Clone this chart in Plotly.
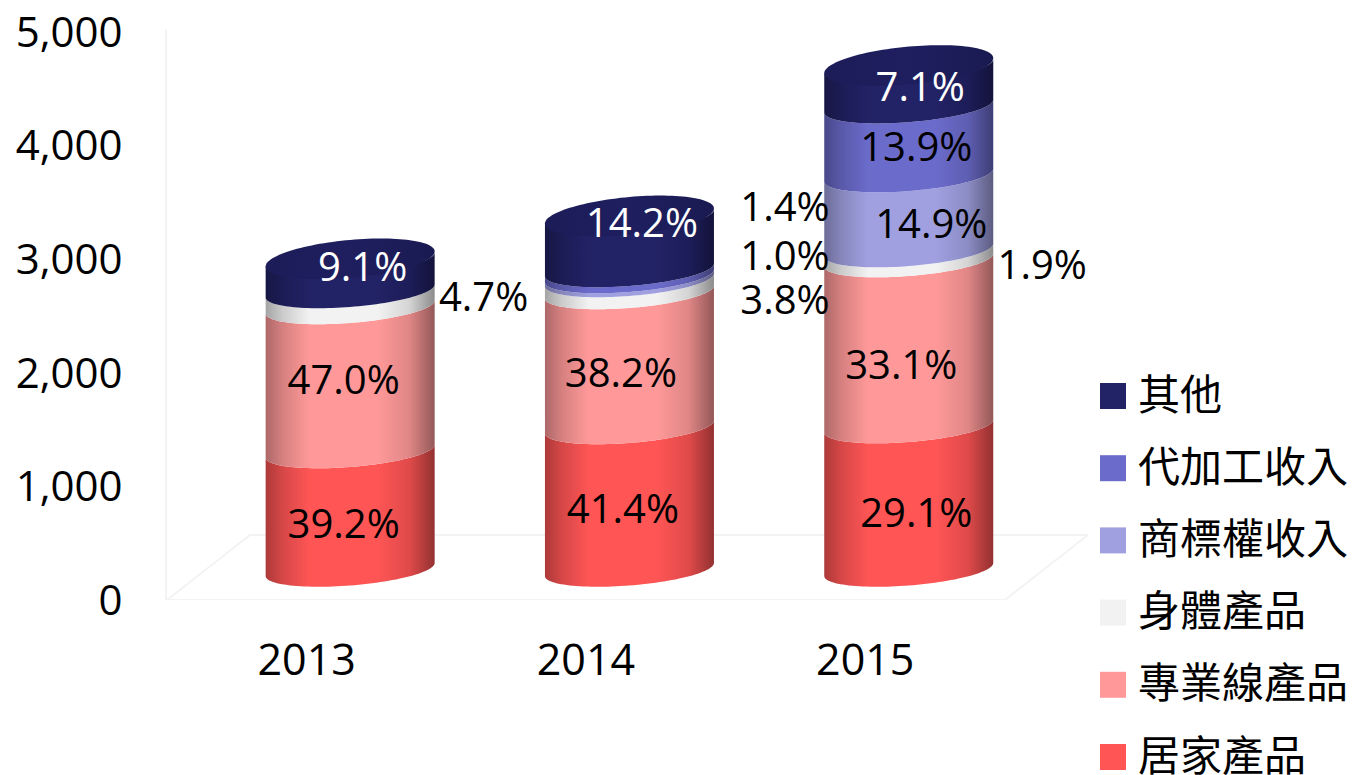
import math
import plotly.graph_objects as go

YEARS = ["2013", "2014", "2015"]
SERIES = ["居家產品", "專業線產品", "身體產品", "商標權收入", "代加工收入", "其他"]
COLORS = ["#FF5555", "#FF9999", "#F2F2F2", "#A0A0E0", "#6B6BCB", "#222266"]

home = [1043, 1255, 1263]
pro = [1268, 1188, 1461]
body = [141, 106, 88]
brand = [0, 35, 660]
oem = [0, 53, 607]
other = [282, 475, 357]
VALUES = [home, pro, body, brand, oem, other]

home_pct = ["39.2%", "41.4%", "29.1%"]
pro_pct = ["47.0%", "38.2%", "33.1%"]
body_pct = ["4.7%", "3.8%", "1.9%"]
brand_pct = ["", "1.0%", "14.9%"]
oem_pct = ["", "1.4%", "13.9%"]
other_pct = ["9.1%", "14.2%", "7.1%"]
PCT = [home_pct, pro_pct, body_pct, brand_pct, oem_pct, other_pct]

# label nudges from the middle of each segment, in pixels (right, down)
NUDGE = [
    [(-6.5, 18), (-6.5, 15), (7.5, 18.75)],
    [(-6.5, 5.5), (-8.5, 17.5), (-7.5, 25.5)],
    [(133.5, 2.5), (155.5, 18), (133.5, 13.5)],
    [(0, 0), (155.5, -17.5), (22.5, 15.5)],
    [(0, 0), (155.5, -61.5), (7.5, 10.25)],
    [(12.5, -3.5), (12.5, -16), (11.5, 4.75)],
]
LABEL_COLORS = ["black", "black", "black", "black", "black", "white"]

W, H = 1353, 775
X0, X1 = 167, 1088
Y0, Y1 = 600, 30
PX_CAT = 279.3
PX_VAL = 0.1136
DEPTH_X = 83 / PX_CAT
DEPTH_Y = 65 / PX_VAL
CYL_DX = 43.5 / PX_CAT
CYL_DY = 30.5 / PX_VAL
A, B, S = 84.5, 16.0, 6.5
A_TOP, B_TOP, S_TOP = 84.5, 19.0, 7.5
FONT_LAT = "'Open Sans', 'Noto Sans CJK TC', sans-serif"
FONT_CJK = "'Noto Sans CJK TC', 'Noto Sans', sans-serif"


def shade(color, k):
    r, g, b = int(color[1:3], 16), int(color[3:5], 16), int(color[5:7], 16)
    return f"rgb({int(r*k)},{int(g*k)},{int(b*k)})"


def cscale(color):
    return [[0, shade(color, .68)], [.1, shade(color, .84)], [.26, shade(color, 1)],
            [.66, shade(color, 1)], [.85, shade(color, .88)], [1, shade(color, .58)]]


def arc(cx, yv, t0, t1, b=B, s=S, n=60):
    xs, ys = [], []
    for i in range(n + 1):
        t = t0 + (t1 - t0) * i / n
        xs.append(cx + A / PX_CAT * math.cos(t))
        ys.append(yv - b / PX_VAL * math.sin(t) + s / PX_VAL * math.cos(t))
    return xs, ys


fig = go.Figure()

# floor of the 3D plot
floor_x = [0, 3, 3 + DEPTH_X, DEPTH_X, 0]
floor_y = [0, 0, DEPTH_Y, DEPTH_Y, 0]
fig.add_trace(go.Scatter(x=floor_x, y=floor_y, mode="lines", line=dict(color="#F3F3F3", width=2),
                         hoverinfo="skip", showlegend=False))

labels = []
for j, year in enumerate(YEARS):
    cx = j + 0.5 + CYL_DX
    level = CYL_DY
    for i, vals in enumerate(VALUES):
        v = vals[j]
        if v:
            xb, yb = arc(cx, level, math.pi, 0)
            xt, yt = arc(cx, level + v, 0, math.pi)
            fig.add_trace(go.Scatter(x=xb + xt, y=yb + yt, mode="none", fill="toself",
                                     fillgradient=dict(type="horizontal", colorscale=cscale(COLORS[i])),
                                     hoverinfo="skip", showlegend=False))
        if PCT[i][j]:
            dx, dy = NUDGE[i][j]
            labels.append((cx + dx / PX_CAT, level + v / 2 - dy / PX_VAL, PCT[i][j], LABEL_COLORS[i]))
        level += v
    xe, ye = arc(cx, level, 0, 2 * math.pi, b=B_TOP, s=S_TOP, n=120)
    fig.add_trace(go.Scatter(x=xe, y=ye, mode="none", fill="toself",
                             fillgradient=dict(type="horizontal",
                                               colorscale=[[0, "#1c1c58"], [.5, "#1f1f60"], [1, "#1a1a52"]]),
                             hoverinfo="skip", showlegend=False))

fig.add_trace(go.Scatter(x=[l[0] for l in labels], y=[l[1] for l in labels],
                         text=[l[2] for l in labels], mode="text", textposition="middle center",
                         textfont=dict(family=FONT_LAT, size=40, color=[l[3] for l in labels]),
                         hoverinfo="skip", showlegend=False, cliponaxis=False))

# legend (top to bottom, reversed series order)
LEG_Y = [396 + 72.2 * k for k in range(len(SERIES))]
fig.add_trace(go.Scatter(x=[1113] * 6, y=LEG_Y, xaxis="x2", yaxis="y2", mode="markers",
                         marker=dict(symbol="square", size=26, color=COLORS[::-1], line=dict(width=0)),
                         hoverinfo="skip", showlegend=False, cliponaxis=False))
fig.add_trace(go.Scatter(x=[1138] * 6, y=[v + 3 for v in LEG_Y], xaxis="x2", yaxis="y2", mode="text",
                         text=SERIES[::-1], textposition="middle right",
                         textfont=dict(family=FONT_CJK, size=42, color="black"),
                         hoverinfo="skip", showlegend=False, cliponaxis=False))

fig.update_layout(
    width=W, height=H, margin=dict(l=0, r=0, t=0, b=0, autoexpand=False), autosize=False,
    paper_bgcolor="white", plot_bgcolor="white", showlegend=False,
    xaxis=dict(domain=[X0 / W, X1 / W], range=[0, (X1 - X0) / PX_CAT],
               tickmode="array", tickvals=[0.5, 1.5, 2.5], ticktext=YEARS,
               showgrid=False, zeroline=False, showline=False, ticks="", automargin=False,
               ticklabelstandoff=31, tickfont=dict(family=FONT_LAT, size=43, color="black")),
    yaxis=dict(domain=[(H - Y0) / H, (H - Y1) / H], range=[0, (Y0 - Y1) / PX_VAL],
               tickmode="array", tickvals=[0, 1000, 2000, 3000, 4000, 5000],
               ticktext=["0", "1,000", "2,000", "3,000", "4,000", "5,000"],
               showgrid=False, zeroline=False, showline=True, linecolor="#F3F3F3", linewidth=2, ticks="",
               automargin=False,
               ticklabelstandoff=34, tickfont=dict(family=FONT_LAT, size=42, color="black")),
    xaxis2=dict(domain=[1090 / W, 1], range=[1090, W], visible=False, anchor="y2"),
    yaxis2=dict(domain=[0, 405 / H], range=[H, 370], visible=False, anchor="x2"),
)
fig.write_html("out.html", config={"displayModeBar": False},
               post_script="document.body.style.margin='0';document.documentElement.style.overflow='hidden';")
